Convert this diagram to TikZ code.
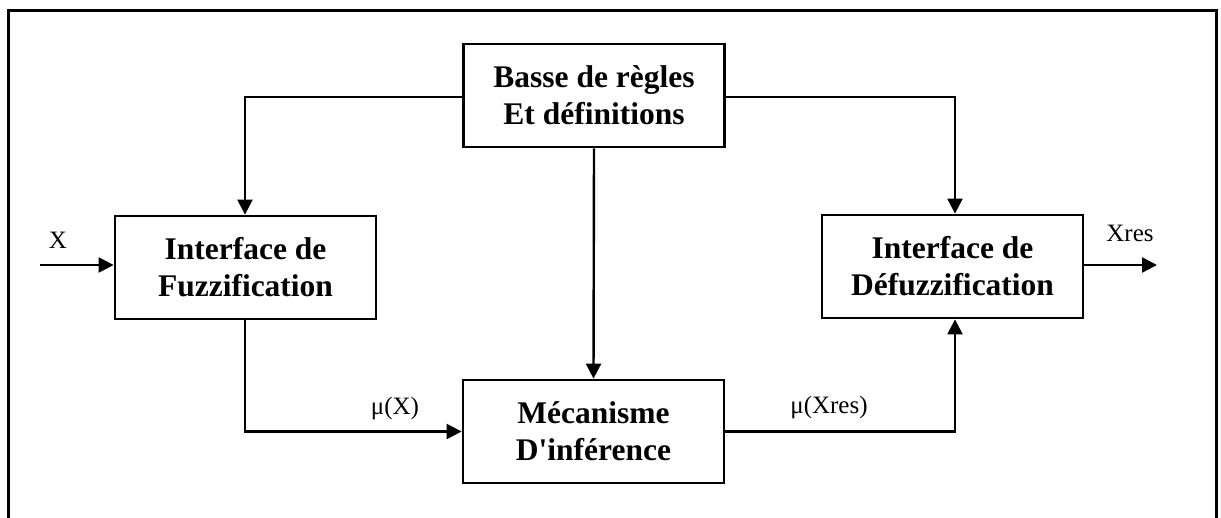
\documentclass[tikz,border=0pt]{standalone}
\usepackage{fontspec}
\setmainfont{Liberation Serif}
\usetikzlibrary{arrows.meta}
\begin{document}
\begin{tikzpicture}[x=1pt,y=-1pt,
  blk/.style={draw, line width=2.8pt, minimum width=261pt, minimum height=103pt, inner sep=0pt, align=center,
    font=\fontsize{31.5}{37}\selectfont\bfseries},
  conn/.style={line width=2.4pt},
  arr/.style={conn, -{Triangle[length=15pt,width=15pt]}},
  lbl/.style={font=\fontsize{25}{30}\selectfont, inner sep=0pt}]
\useasboundingbox (0,0) rectangle (1221,517);
\draw[line width=3pt] (8,519) -- (8,10) -- (1216,10) -- (1216,519);
\node[blk] (rules) at (594,95.5) {Basse de règles\\Et définitions};
\node[blk] (fuzz) at (245.5,267.5) {Interface de\\Fuzzification};
\node[blk] (mec) at (593.5,431.5) {Mécanisme\\D\textquotesingle inférence};
\node[blk] (defuzz) at (952.5,266.5) {Interface de\\Défuzzification};
\coordinate (c1) at (245,97);
\coordinate (c2) at (955,97);
\coordinate (in) at (40,265);
\coordinate (out) at (1157,265);
\draw[arr] (rules.west |- c1) -- (c1) -- (fuzz.north -| c1);
\draw[arr] (rules.east |- c2) -- (c2) -- (defuzz.north -| c2);
\draw[arr] (rules.south) -- (mec.north);
\draw[arr] (fuzz.south -| c1) |- (mec.west);
\draw[arr] (mec.east) -| (defuzz.south -| c2);
\draw[arr] (in) -- (fuzz.west |- in);
\draw[arr] (defuzz.east |- out) -- (out);
\node[lbl] (lx) at (58,240) {X};
\node[lbl] (lxres) at (1130,233) {Xres};
\node[lbl] (lmux) at (395,408) {μ(X)};
\node[lbl] (lmuxres) at (829,407) {μ(Xres)};
\end{tikzpicture}
\end{document}
